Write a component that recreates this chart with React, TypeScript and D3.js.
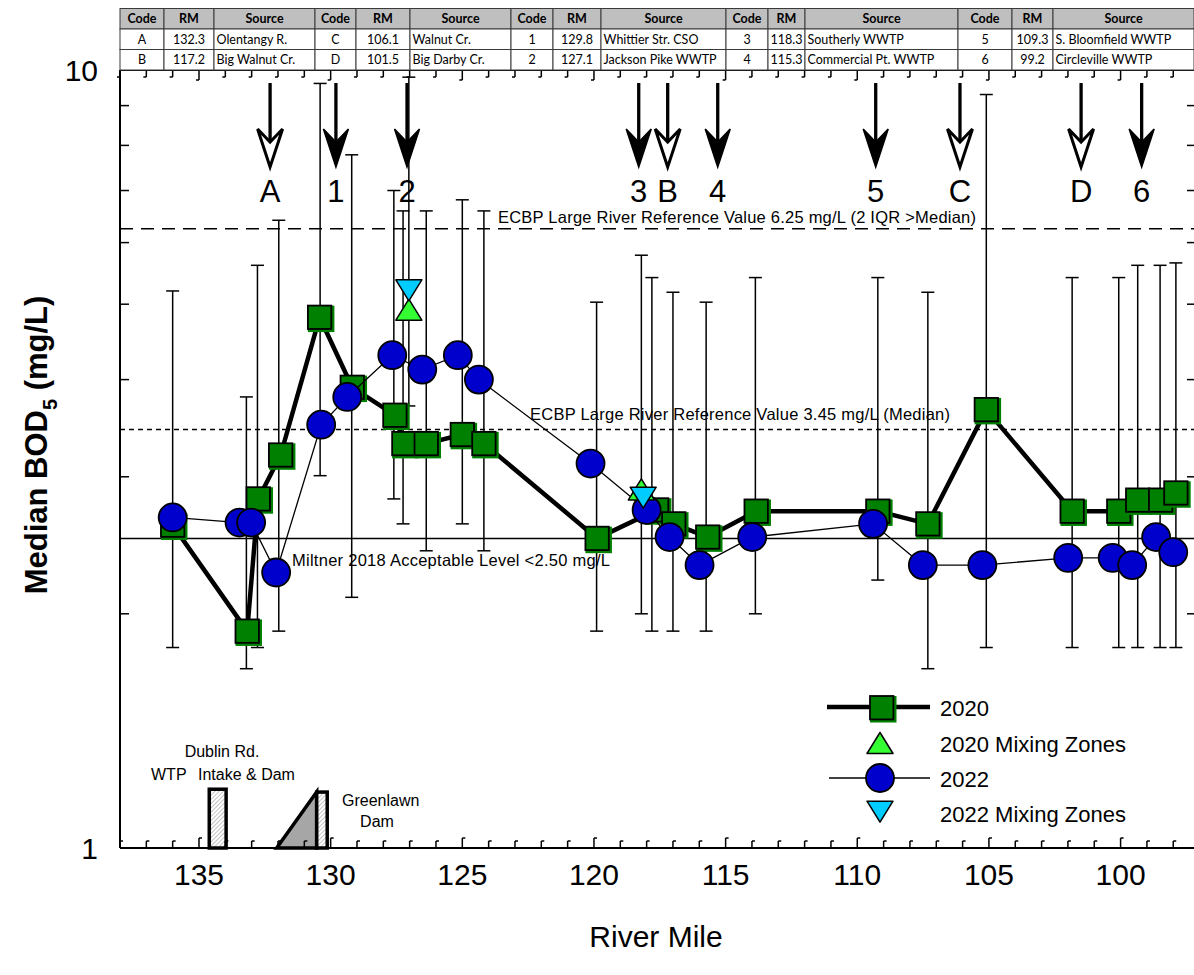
import React from 'react';
import * as d3 from 'd3';

const WIDTH = 1194;
const HEIGHT = 975;
const FONT = '"Liberation Sans", Arial, Helvetica, sans-serif';
const TABLE_FONT = 'Lato, "Open Sans", "Liberation Sans", sans-serif';

// Sources along the river: tributaries (A–D) and point sources (1–6)
const sourceCodes = ['A', 'B', 'C', 'D', '1', '2', '3', '4', '5', '6'];
const sourceRM = [132.3, 117.2, 106.1, 101.5, 129.8, 127.1, 118.3, 115.3, 109.3, 99.2];
const sourceNames = [
  'Olentangy R.', 'Big Walnut Cr.', 'Walnut Cr.', 'Big Darby Cr.',
  'Whittier Str. CSO', 'Jackson Pike WWTP', 'Southerly WWTP', 'Commercial Pt. WWTP',
  'S. Bloomfield WWTP', 'Circleville WWTP',
];
const tributaryCodes = ['A', 'B', 'C', 'D'];

// Median BOD5 (mg/L) by river mile, 2020 survey
const rm2020 = [136.0, 133.17, 132.75, 131.9, 130.42, 129.18, 127.56, 127.22, 126.37, 125.0, 124.18,
  119.88, 117.62, 116.97, 115.68, 113.84, 109.22, 107.32, 105.1, 101.84, 100.07, 99.35, 98.48, 97.9];
const bod2020 = [2.60, 1.90, 2.81, 3.20, 4.81, 3.91, 3.60, 3.31, 3.31, 3.40, 3.31,
  2.50, 2.72, 2.61, 2.51, 2.71, 2.71, 2.61, 3.66, 2.71, 2.71, 2.80, 2.80, 2.86];

// Median BOD5 (mg/L) by river mile, 2022 survey
const rm2022 = [136.0, 133.46, 133.02, 132.07, 130.36, 129.37, 127.66, 126.52, 125.17, 124.37,
  120.13, 118.0, 117.13, 115.99, 113.99, 109.4, 107.51, 105.25, 101.99, 100.3, 99.56, 98.65, 98.0];
const bod2022 = [2.66, 2.62, 2.62, 2.26, 3.50, 3.80, 4.30, 4.12, 4.30, 4.00,
  3.12, 2.72, 2.51, 2.31, 2.51, 2.61, 2.31, 2.31, 2.36, 2.36, 2.31, 2.51, 2.40];

// Mixing zone samples
const mzRM2020 = [127.03, 118.2];
const mzBod2020 = [4.92, 2.89];
const mzRM2022 = [127.03, 118.13];
const mzBod2022 = [5.21, 2.82];

// Sample ranges (min–max) at each site
const rangeRM = [136.0, 133.2, 132.78, 131.97, 130.4, 129.2, 127.6, 127.25, 127.03, 126.37, 125.0, 124.18,
  119.9, 118.2, 117.8, 117.0, 115.74, 113.87, 109.22, 107.32, 105.1, 101.84, 100.07, 99.35, 98.5, 97.9];
const rangeHi = [5.2, 3.8, 5.61, 6.41, 9.61, 7.78, 7.0, 6.59, 9.79, 6.59, 6.81, 6.59,
  5.03, 5.78, 5.41, 5.18, 5.03, 5.41, 5.41, 5.18, 9.3, 5.41, 5.41, 5.61, 5.61, 5.65];
const rangeLo = [1.81, 1.70, 1.81, 1.90, 3.01, 2.10, 2.81, 2.61, 3.70, 2.41, 2.61, 2.41,
  1.90, 2.0, 1.90, 1.90, 1.90, 2.0, 2.21, 1.70, 1.81, 1.81, 1.81, 1.81, 1.81, 1.81];

// Reference levels
const ecbpIqr = 6.25;
const ecbpMedian = 3.45;
const miltnerLevel = 2.5;

// Axis ticks
const xTickValues = [135, 130, 125, 120, 115, 110, 105, 100];
const yTickLabels = [1, 10];
const yMinorTicks = [2, 3, 4, 5, 6, 7, 8, 9];

// Dams: Dublin Rd. WTP intake & dam, Greenlawn dam (river miles)
const dublinDamRM = [134.61, 133.97];
const greenlawnRampRM = [132.05, 130.53];
const greenlawnDamRM = [130.53, 130.13];
const damTop = 1.19;

const x = d3.scaleLinear().domain([138, 97.25]).range([120, 1193]);
const y = d3.scaleLog().domain([1, 10]).range([848, 70]);

const GREEN = '#008000';
const BLUE = '#0000cc';
const LIGHT_GREEN = '#33ff33';
const CYAN = '#00ccff';

const Square = ({ cx, cy }: { cx: number; cy: number }) => (
  <g>
    <rect x={cx - 11.7} y={cy - 11.7} width={26.5} height={26.5} fill={GREEN} />
    <rect x={cx - 11.7} y={cy - 11.7} width={23.4} height={23.4} fill="none" stroke="#000" strokeWidth={1.8} />
  </g>
);

const Circle = ({ cx, cy }: { cx: number; cy: number }) => (
  <circle cx={cx} cy={cy} r={14} fill={BLUE} stroke="#000" strokeWidth={1.8} />
);

const TriUp = ({ cx, cy }: { cx: number; cy: number }) => (
  <path d={`M${cx},${cy - 10.5} L${cx + 13},${cy + 10.5} L${cx - 13},${cy + 10.5} Z`}
    fill={LIGHT_GREEN} stroke="#000" strokeWidth={1.5} strokeLinejoin="round" />
);

const TriDown = ({ cx, cy }: { cx: number; cy: number }) => (
  <path d={`M${cx - 13},${cy - 10.5} L${cx + 13},${cy - 10.5} L${cx},${cy + 10.5} Z`}
    fill={CYAN} stroke="#000" strokeWidth={1.5} strokeLinejoin="round" />
);

function SourceTable() {
  const top = 8.5;
  const rowH = 20.5;
  const groups = [
    [120, 164, 214, 315],
    [315, 356, 410, 511],
    [511, 553, 601, 726],
    [726, 768, 805, 958],
    [958, 1012, 1053, 1194],
  ];
  const cells: React.ReactNode[] = [];
  groups.forEach((g, gi) => {
    const [c0, c1, c2, c3] = g;
    const headers = ['Code', 'RM', 'Source'];
    const edges = [c0, c1, c2, c3];
    for (let k = 0; k < 3; k++) {
      cells.push(
        <rect key={`h${gi}${k}`} x={edges[k]} y={top} width={edges[k + 1] - edges[k]} height={rowH}
          fill="#bfbfbf" stroke="#3a3a3a" strokeWidth={1} />
      );
      cells.push(
        <text key={`ht${gi}${k}`} x={(edges[k] + edges[k + 1]) / 2} y={top + 14.5} textAnchor="middle"
          fontWeight="bold" fontSize={12.5}>{headers[k]}</text>
      );
    }
    for (let r = 0; r < 2; r++) {
      const idx = gi * 2 + r;
      const ry = top + rowH * (r + 1);
      for (let k = 0; k < 3; k++) {
        cells.push(
          <rect key={`c${gi}${r}${k}`} x={edges[k]} y={ry} width={edges[k + 1] - edges[k]} height={rowH}
            fill="#fff" stroke="#3a3a3a" strokeWidth={1} />
        );
      }
      cells.push(<text key={`tc${idx}`} x={(c0 + c1) / 2} y={ry + 14.5} textAnchor="middle" fontSize={12.5}>{sourceCodes[idx]}</text>);
      cells.push(<text key={`tr${idx}`} x={(c1 + c2) / 2} y={ry + 14.5} textAnchor="middle" fontSize={12.5}>{sourceRM[idx].toFixed(1)}</text>);
      cells.push(<text key={`ts${idx}`} x={c2 + 2.5} y={ry + 14.5} fontSize={12.5}>{sourceNames[idx]}</text>);
    }
  });
  return <g fontFamily={TABLE_FONT} fill="#000">{cells}</g>;
}

export default function App() {
  const line = d3.line<[number, number]>().x((d) => x(d[0])).y((d) => y(d[1]));
  const path2020 = line(rm2020.map((r, i) => [r, bod2020[i]]) as [number, number][]) || '';
  const path2022 = line(rm2022.map((r, i) => [r, bod2022[i]]) as [number, number][]) || '';

  const mileTicks = d3.range(138, 97, -1);
  const left = 120;
  const right = 1194;
  const top = 70;
  const bottom = 848;

  return (
    <div style={{ position: 'absolute', left: 0, top: 0 }}>
      <svg width={WIDTH} height={HEIGHT} style={{ display: 'block', background: '#fff' }} fontFamily={FONT}>
        <defs>
          <pattern id="hatch" patternUnits="userSpaceOnUse" width={3} height={3} patternTransform="rotate(45)">
            <rect width={3} height={3} fill="#fff" />
            <line x1={0} y1={0} x2={0} y2={3} stroke="#777" strokeWidth={0.9} />
          </pattern>
        </defs>

        {/* Reference lines */}
        <line x1={left} x2={right} y1={y(ecbpIqr)} y2={y(ecbpIqr)} stroke="#000" strokeWidth={1.5} strokeDasharray="13 8" />
        <line x1={left} x2={right} y1={y(ecbpMedian)} y2={y(ecbpMedian)} stroke="#000" strokeWidth={1.5} strokeDasharray="5 4" />
        <line x1={left} x2={right} y1={y(miltnerLevel)} y2={y(miltnerLevel)} stroke="#000" strokeWidth={1.5} />
        <text x={498} y={y(ecbpIqr) - 6} fontSize={16.5} textLength={478} lengthAdjust="spacing">
          ECBP Large River Reference Value 6.25 mg/L (2 IQR &gt;Median)
        </text>
        <text x={530} y={y(ecbpMedian) - 10} fontSize={16.5} textLength={420} lengthAdjust="spacing">
          ECBP Large River Reference Value 3.45 mg/L (Median)
        </text>
        <text x={292} y={y(miltnerLevel) + 28} fontSize={16.5} textLength={318} lengthAdjust="spacing">
          Miltner 2018 Acceptable Level &lt;2.50 mg/L
        </text>

        {/* Source arrows */}
        {sourceCodes.map((c, i) => {
          const ax = x(sourceRM[i]);
          const open = tributaryCodes.includes(c);
          return (
            <g key={`arr${c}`}>
              <line x1={ax} x2={ax} y1={83} y2={open ? 142 : 150} stroke="#000" strokeWidth={3.3} />
              <path d={`M${ax},167 L${ax - 12.5},129 L${ax},142 L${ax + 12.5},129 Z`}
                fill={open ? '#fff' : '#000'} stroke="#000" strokeWidth={open ? 3 : 1.5} strokeLinejoin="miter" />
              <text x={ax} y={202} textAnchor="middle" fontSize={31}>{c}</text>
            </g>
          );
        })}

        {/* Sample ranges */}
        {rangeRM.map((r, i) => {
          const bx = x(r);
          return (
            <g key={`rng${i}`} stroke="#000" strokeWidth={1.5}>
              <line x1={bx} x2={bx} y1={y(rangeHi[i])} y2={y(rangeLo[i])} />
              <line x1={bx - 6.5} x2={bx + 6.5} y1={y(rangeHi[i])} y2={y(rangeHi[i])} />
              <line x1={bx - 6.5} x2={bx + 6.5} y1={y(rangeLo[i])} y2={y(rangeLo[i])} />
            </g>
          );
        })}

        {/* 2020 series */}
        <path d={path2020} fill="none" stroke="#000" strokeWidth={4.5} strokeLinejoin="round" />
        {rm2020.map((r, i) => <Square key={`s${i}`} cx={x(r)} cy={y(bod2020[i])} />)}

        {/* 2022 series */}
        <path d={path2022} fill="none" stroke="#000" strokeWidth={1.3} />
        {rm2022.map((r, i) => <Circle key={`c${i}`} cx={x(r)} cy={y(bod2022[i])} />)}

        {/* Mixing zones */}
        {mzRM2020.map((r, i) => <TriUp key={`mu${i}`} cx={x(r)} cy={y(mzBod2020[i])} />)}
        {mzRM2022.map((r, i) => <TriDown key={`md${i}`} cx={x(r)} cy={y(mzBod2022[i])} />)}

        {/* Dams */}
        <rect x={x(dublinDamRM[0])} y={y(damTop)} width={x(dublinDamRM[1]) - x(dublinDamRM[0])}
          height={bottom - y(damTop)} fill="url(#hatch)" stroke="#000" strokeWidth={3.5} />
        <path d={`M${x(greenlawnRampRM[0])},${bottom} L${x(greenlawnRampRM[1])},${y(damTop - 0.01)} L${x(greenlawnRampRM[1])},${bottom} Z`}
          fill="#a6a6a6" stroke="#000" strokeWidth={3.5} strokeLinejoin="miter" />
        <rect x={x(greenlawnDamRM[0])} y={y(damTop - 0.01)} width={x(greenlawnDamRM[1]) - x(greenlawnDamRM[0])}
          height={bottom - y(damTop - 0.01)} fill="url(#hatch)" stroke="#000" strokeWidth={3.5} />
        <text x={222} y={757} textAnchor="middle" fontSize={16}>Dublin Rd.</text>
        <text x={151} y={780} fontSize={16}>WTP</text>
        <text x={198} y={780} fontSize={16}>Intake &amp; Dam</text>
        <text x={342} y={806} fontSize={16}>Greenlawn</text>
        <text x={377} y={827} textAnchor="middle" fontSize={16}>Dam</text>

        {/* Frame and ticks */}
        <line x1={left} x2={left} y1={top} y2={bottom} stroke="#000" strokeWidth={2} />
        <line x1={left} x2={right} y1={bottom} y2={bottom} stroke="#000" strokeWidth={2} />
        <line x1={left} x2={right} y1={top} y2={top} stroke="#000" strokeWidth={2} />
        {mileTicks.map((m) => {
          const tx = x(m);
          const len = m % 5 === 0 ? 10 : 7;
          return (
            <g key={`mt${m}`} stroke="#000" strokeWidth={1.5}>
              <line x1={tx} x2={tx} y1={top} y2={top + len} />
              <line x1={tx - 3} x2={tx} y1={top + len} y2={top + len} />
              <line x1={tx} x2={tx} y1={bottom} y2={bottom - len} />
              <line x1={tx} x2={tx + 3} y1={bottom - len} y2={bottom - len} />
            </g>
          );
        })}
        {yMinorTicks.map((v) => (
          <g key={`yt${v}`} stroke="#000" strokeWidth={1.5}>
            <line x1={left} x2={left + 9} y1={y(v)} y2={y(v)} />
            <line x1={right} x2={right - 7} y1={y(v)} y2={y(v)} />
          </g>
        ))}
        {xTickValues.map((v) => (
          <text key={`xl${v}`} x={x(v)} y={885} textAnchor="middle" fontSize={30}>{v}</text>
        ))}
        {yTickLabels.map((v) => (
          <text key={`yl${v}`} x={98} y={y(v) + 11} textAnchor="end" fontSize={30}>{v}</text>
        ))}

        {/* Axis titles */}
        <text x={656} y={947} textAnchor="middle" fontSize={30}>River Mile</text>
        <text transform="translate(47,445) rotate(-90)" textAnchor="middle" fontSize={31} fontWeight="bold">
          Median BOD<tspan fontSize={20} dy={10}>5</tspan><tspan dy={-10}> (mg/L)</tspan>
        </text>

        {/* Legend */}
        <g fontSize={22}>
          <line x1={827} x2={930} y1={707} y2={707} stroke="#000" strokeWidth={4.5} />
          <Square cx={881.7} cy={707.7} />
          <text x={940} y={716}>2020</text>
          <TriUp cx={880} cy={743} />
          <text x={940} y={752}>2020 Mixing Zones</text>
          <line x1={829} x2={930} y1={778} y2={778} stroke="#000" strokeWidth={1.3} />
          <Circle cx={880} cy={778} />
          <text x={940} y={787}>2022</text>
          <TriDown cx={880} cy={811.7} />
          <text x={940} y={821.7}>2022 Mixing Zones</text>
        </g>

        <SourceTable />
      </svg>
    </div>
  );
}
